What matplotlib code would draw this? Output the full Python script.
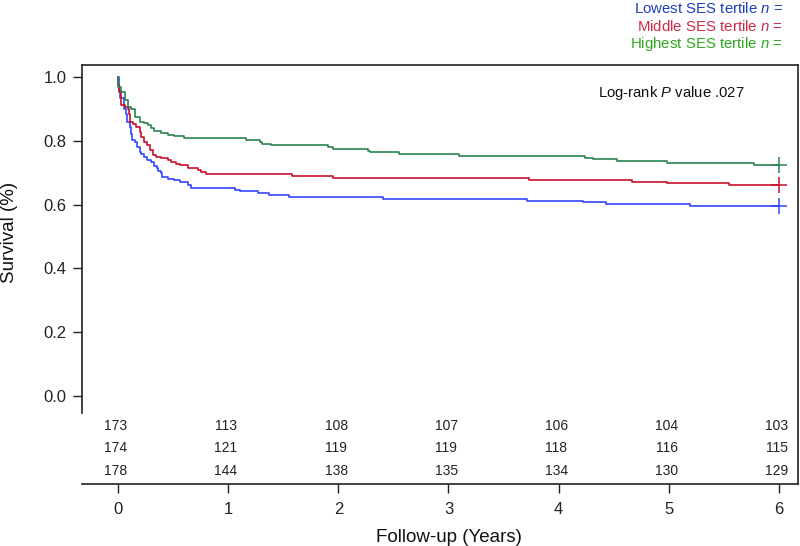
import matplotlib
matplotlib.use('Agg')
import matplotlib.pyplot as plt

plt.rcParams['font.family'] = ['Liberation Sans', 'DejaVu Sans']
plt.rcParams['mathtext.fontset'] = 'custom'
plt.rcParams['mathtext.rm'] = 'Liberation Sans'
plt.rcParams['mathtext.it'] = 'Liberation Sans:italic'

# ---- data ----
group_labels = ['Lowest SES tertile', 'Middle SES tertile', 'Highest SES tertile']

low_t = [0, 0.006, 0.014, 0.054, 0.076, 0.085, 0.106, 0.115, 0.127, 0.151, 0.175,
         0.196, 0.212, 0.236, 0.266, 0.30, 0.33, 0.357, 0.362, 0.387, 0.399, 0.45,
         0.51, 0.56, 0.635, 0.665, 1.06, 1.11, 1.27, 1.37, 1.55, 2.41, 3.71, 4.22,
         4.43, 5.19]
low_s = [1.0, 0.960, 0.936, 0.901, 0.886, 0.860, 0.844, 0.823, 0.803, 0.797, 0.780,
         0.766, 0.760, 0.750, 0.740, 0.734, 0.723, 0.714, 0.705, 0.699, 0.688, 0.682,
         0.676, 0.671, 0.661, 0.653, 0.647, 0.642, 0.636, 0.630, 0.624, 0.618, 0.613,
         0.607, 0.601, 0.595]

mid_t = [0, 0.004, 0.012, 0.024, 0.03, 0.06, 0.09, 0.097, 0.106, 0.136, 0.166,
         0.196, 0.21, 0.24, 0.266, 0.287, 0.317, 0.348, 0.39, 0.45, 0.48, 0.53,
         0.56, 0.635, 0.726, 0.756, 0.80, 1.58, 1.95, 3.73, 4.67, 4.98, 5.55]
mid_s = [1.0, 0.975, 0.954, 0.938, 0.912, 0.907, 0.901, 0.886, 0.860, 0.854, 0.844,
         0.828, 0.812, 0.797, 0.786, 0.771, 0.755, 0.749, 0.746, 0.741, 0.734, 0.729,
         0.724, 0.716, 0.710, 0.703, 0.695, 0.690, 0.684, 0.678, 0.672, 0.667, 0.661]

high_t = [0, 0.004, 0.03, 0.06, 0.09, 0.12, 0.15, 0.196, 0.24, 0.27, 0.30, 0.33,
          0.39, 0.45, 0.51, 0.60, 1.16, 1.29, 1.31, 1.39, 1.91, 1.95, 2.27, 2.29,
          2.55, 3.10, 4.24, 4.31, 4.53, 4.98, 5.77]
high_s = [1.0, 0.970, 0.954, 0.928, 0.907, 0.899, 0.876, 0.861, 0.857, 0.851, 0.840,
          0.831, 0.826, 0.820, 0.815, 0.809, 0.803, 0.798, 0.792, 0.787, 0.781, 0.775,
          0.770, 0.764, 0.758, 0.753, 0.747, 0.742, 0.736, 0.730, 0.725]

end_time = 6.0

risk_times = [0, 1, 2, 3, 4, 5, 6]
risk_low = [173, 113, 108, 107, 106, 104, 103]
risk_mid = [174, 121, 119, 119, 118, 116, 115]
risk_high = [178, 144, 138, 135, 134, 130, 129]

y_ticks = [0.0, 0.2, 0.4, 0.6, 0.8, 1.0]
x_ticks = [0, 1, 2, 3, 4, 5, 6]
p_text = r'Log-rank $\mathit{P}$ value .027'

curve_colors = ['#3246ff', '#c8102e', '#2a8550']
legend_colors = ['#1f3fbf', '#d02a48', '#2fa81f']

# ---- figure ----
W, H = 800, 546
fig = plt.figure(figsize=(W / 100, H / 100), dpi=100)
ax_l, ax_r, ax_t, ax_b = 82.3, 797.7, 65, 484
ax = fig.add_axes([ax_l / W, 1 - ax_b / H, (ax_r - ax_l) / W, (ax_b - ax_t) / H])

xmin, xmax = -0.324, 6.17
ymin, ymax = -0.277, 1.0386
ax.set_xlim(xmin, xmax)
ax.set_ylim(ymin, ymax)

for t, s, c in [(low_t, low_s, curve_colors[0]),
                (mid_t, mid_s, curve_colors[1]),
                (high_t, high_s, curve_colors[2])]:
    ax.step(list(t) + [end_time], list(s) + [s[-1]], where='post', color=c, lw=1.2,
            zorder=3)
    ax.plot([end_time], [s[-1]], marker='+', color=c, markersize=11, mew=1.1,
            zorder=4)

# risk table
risk_y = [-0.094, -0.165, -0.236]
for row, yy in zip([risk_low, risk_mid, risk_high], risk_y):
    for xt, v in zip(risk_times, row):
        ax.text(xt - 0.02, yy, str(v), ha='center', va='center', fontsize=10,
                color='#222222')

ax.text(598, H - 97.3, p_text, transform=None, fontsize=10.7, ha='left',
        va='baseline', color='#111111')

# spines and ticks
for sp in ax.spines.values():
    sp.set_color('#222222')
    sp.set_linewidth(1.2)
ax.spines['left'].set_bounds(-0.053, ymax)
ax.set_yticks(y_ticks)
ax.set_yticklabels([f'{v:.1f}' for v in y_ticks])
ax.set_xticks(x_ticks)
ax.set_xticklabels([str(v) for v in x_ticks])
ax.tick_params(axis='both', direction='out', length=6.2, width=1.0,
               color='#222222', labelsize=12, labelcolor='#222222')
ax.tick_params(axis='y', pad=5.3)
ax.tick_params(axis='x', pad=6.5, length=6.8)

fig.text(10 / W, 1 - 232 / H, 'Survival (%)', rotation=90, ha='center',
         va='center', fontsize=13.5, color='#111111')
fig.text(448.7 / W, 1 - 537 / H, 'Follow-up (Years)', ha='center', va='center',
         fontsize=13.5, color='#111111')

# legend text top right
baselines = [13.3, 30.7, 48.3]
for lab, c, b in zip(group_labels, legend_colors, baselines):
    fig.text(783 / W, 1 - b / H, lab + r' $\mathit{n}$ =', ha='right',
             va='baseline', fontsize=10.8, color=c)

fig.savefig('out.png', dpi=100)
